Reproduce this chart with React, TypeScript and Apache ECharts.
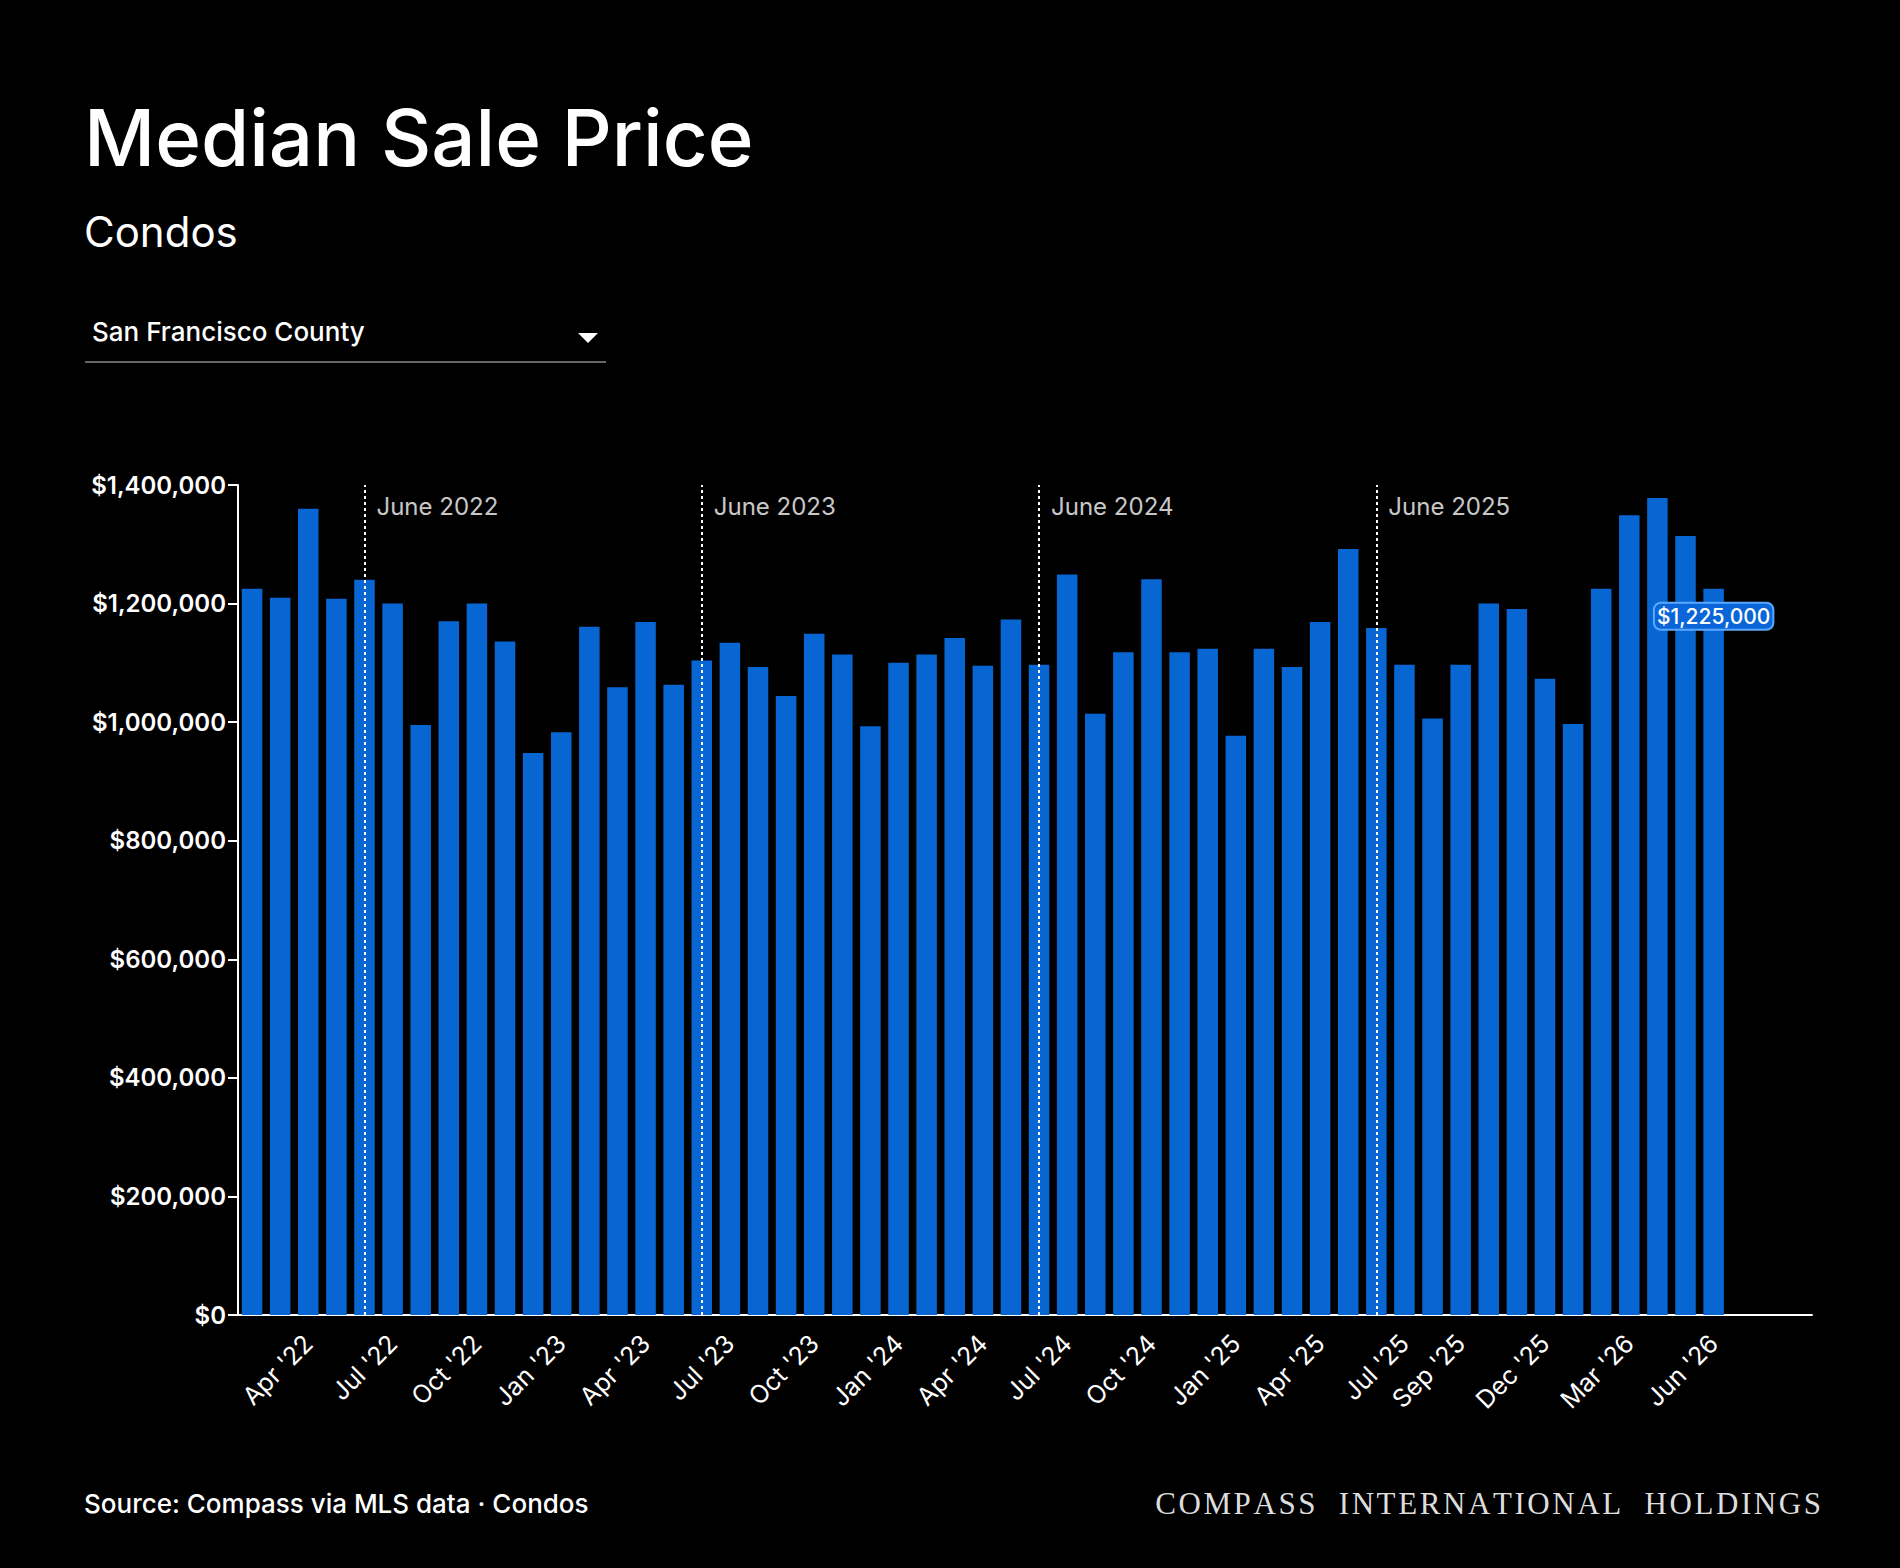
import React, { useEffect, useRef } from "react";
import * as echarts from "echarts";

const MONTHS = ["Jan", "Feb", "Mar", "Apr", "May", "Jun", "Jul", "Aug", "Sep", "Oct", "Nov", "Dec"];
const categories: string[] = [];
for (let i = 0; i < 56; i++) {
  const m = (1 + i) % 12;
  const y = 22 + Math.floor((1 + i) / 12);
  categories.push(`${MONTHS[m]} '${y}`);
}
const values = [
  1225000, 1210000, 1360000, 1208000, 1240000, 1200000, 995000, 1170000, 1200000, 1136000,
  948000, 983000, 1161000, 1059000, 1169000, 1063000, 1104000, 1134000, 1093000, 1044000,
  1149000, 1114000, 993000, 1100000, 1114000, 1142000, 1095000, 1173000, 1097000, 1249000,
  1014000, 1118000, 1241000, 1118000, 1124000, 977000, 1124000, 1093000, 1169000, 1292000,
  1159000, 1097000, 1006000, 1097000, 1200000, 1191000, 1073000, 997000, 1225000, 1349000,
  1378000, 1314000, 1225000,
];
const shownLabels = [
  "Apr '22", "Jul '22", "Oct '22", "Jan '23", "Apr '23", "Jul '23", "Oct '23", "Jan '24", "Apr '24",
  "Jul '24", "Oct '24", "Jan '25", "Apr '25", "Jul '25", "Sep '25", "Dec '25", "Mar '26", "Jun '26",
];
const juneMarkers = [
  { cat: "Jun '22", text: "June 2022" },
  { cat: "Jun '23", text: "June 2023" },
  { cat: "Jun '24", text: "June 2024" },
  { cat: "Jun '25", text: "June 2025" },
];
const yTicks = { min: 0, max: 1400000, interval: 200000 };
const FONT = "Inter, Lato, 'Noto Sans', sans-serif";
const BRAND = "COMPASS  INTERNATIONAL  HOLDINGS";

export default function App() {
  const ref = useRef<HTMLDivElement>(null);
  useEffect(() => {
    document.body.style.margin = "0";
    document.body.style.background = "#000";
    const chart = echarts.init(ref.current!, null, { renderer: "svg" });
    const barData: any[] = values.map((v, i) =>
      i === values.length - 1
        ? {
            value: v,
            label: {
              show: true,
              position: "insideTop",
              offset: [0, 10],
              formatter: "$1,225,000",
              color: "#fff",
              fontSize: 21,
              fontFamily: FONT,
              fontWeight: 500,
              backgroundColor: "#0a66d8",
              borderColor: "#5aa8ff",
              borderWidth: 2,
              borderRadius: 6,
              padding: [2, 2],
            },
          }
        : v
    );
    chart.setOption({
      animation: false,
      backgroundColor: "#000",
      grid: { left: 238, right: 88, top: 485, bottom: 253 },
      xAxis: {
        type: "category",
        data: categories,
        axisLine: { lineStyle: { color: "#fff", width: 2 } },
        axisTick: { alignWithLabel: true, interval: 0, length: 12, lineStyle: { color: "#fff", width: 2 } },
        axisLabel: {
          interval: 0,
          rotate: 45,
          color: "#fff",
          fontSize: 25,
          fontFamily: FONT,
          margin: 24,
          formatter: (v: string) => (shownLabels.includes(v) ? v : ""),
        },
      },
      yAxis: {
        type: "value",
        ...yTicks,
        splitLine: { show: false },
        axisLine: { show: true, lineStyle: { color: "#fff", width: 2 } },
        axisTick: { show: true, length: 10, lineStyle: { color: "#fff", width: 2 } },
        axisLabel: {
          color: "#fff",
          fontSize: 24,
          fontWeight: 600,
          fontFamily: FONT,
          margin: 12,
          formatter: (v: number) => "$" + v.toLocaleString("en-US"),
        },
      },
      series: [
        {
          type: "bar",
          data: barData,
          barCategoryGap: "27%",
          itemStyle: { color: "#0766d1" },
          markLine: {
            silent: true,
            symbol: "none",
            label: { show: false },
            lineStyle: { color: "#fff", type: [3, 3], width: 2 },
            data: juneMarkers.map((m) => ({ xAxis: m.cat })),
          },
          z: 2,
        },
        {
          type: "scatter",
          symbolSize: 0,
          data: juneMarkers.map((m) => [m.cat, 1363000, m.text]),
          label: {
            show: true,
            position: "right",
            distance: 12,
            color: "#fff",
            fontSize: 24,
            fontFamily: FONT,
            formatter: (p: any) => p.data[2],
          },
          z: 5,
        },
      ],
      graphic: [
        { type: "text", left: 84, top: 98, style: { text: "Median Sale Price", fill: "#fff", font: `500 78px ${FONT}` } },
        { type: "text", left: 84, top: 210, style: { text: "Condos", fill: "#fff", font: `400 42px ${FONT}` } },
        { type: "text", left: 92, top: 318, style: { text: "San Francisco County", fill: "#fff", font: `500 26px ${FONT}` } },
        { type: "polygon", shape: { points: [[578, 333], [598, 333], [588, 343]] }, style: { fill: "#fff" } },
        { type: "rect", shape: { x: 85, y: 361, width: 521, height: 2 }, style: { fill: "#666" } },
        { type: "text", left: 84, top: 1490, style: { text: "Source: Compass via MLS data · Condos", fill: "#fff", font: `500 26px ${FONT}` } },
        {
          type: "text",
          right: 79,
          top: 1488,
          style: { text: BRAND.split("").join("\u200A"), fill: "#ddd", font: `400 31px 'Liberation Serif', serif` },
        },
      ],
    });
    return () => chart.dispose();
  }, []);
  return <div ref={ref} style={{ width: 1900, height: 1568 }} />;
}
